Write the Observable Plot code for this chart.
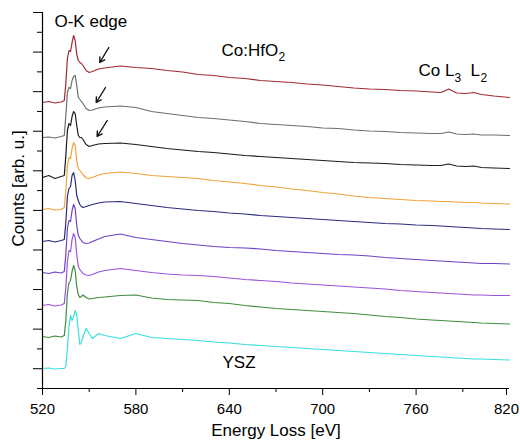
<!DOCTYPE html>
<html><head><meta charset="utf-8">
<script src="https://cdn.jsdelivr.net/npm/d3@7"></script>
<script src="https://cdn.jsdelivr.net/npm/@observablehq/plot@0.6"></script>
<style>html,body{margin:0;padding:0;background:#fff}svg{display:block}</style>
</head><body><div id="chart"></div>
<script>
// Energy loss grid (eV)
const energy = [520,524,528,532,534, 535,536,537,538,539, 540,541,542,543,544, 545,546,548,550,552, 556,560,
  570,580,590,600,610, 620,630,640,650,660, 670,680,690,700,710, 720,730,740,750,760, 770,
  776,781,786,792,797, 802,810,820];

// Stacked spectra (counts, arb. u.), top to bottom
const specRed = [286,287,285.5,286.5,288, 305,330,338,337,346, 353,348,334,328,326, 325,323,318,316,317, 319.5,320.5,
  322.5,321,320,318,316.5, 314,313,311,310,308, 307,306,304.5,303.5,302, 300.5,299.5,299,298,297.5, 296.5,
  296,299.5,295.5,295,296, 294,292.5,291];
const specGray = [251,251.5,250.5,252,253, 273,296,301,300,308, 312,313,303,291,289, 287,285,280,278,278.5, 280.5,281.5,
  282.5,281,277,275,273, 271,270,268.5,267,265, 264,263,262,260.5,260, 258.5,257.5,257,256,255.5, 255,
  255,256.5,254.5,254,254.5, 253.5,253.5,253];
const specBlack = [211,213,210,212,213, 233,258,265,263,272, 277,275,263,253,251, 251,249,244,242,243, 244.5,245,
  245.5,244,242,240,238.5, 237,236,234.5,233,232, 231,230,229,228,227, 226,225.5,225,224,223.5, 223,
  223,224.5,222.5,222,222.5, 221,220.5,220];
const specOrange = [179,180,178.5,179,181, 198,223,231,230,240, 246,243,228,220,218, 216,214,210.5,210,211, 213.5,215,
  216.5,215,213,212,211, 210,208,206.5,205,203, 201.5,199.5,198,196,194.5, 192.5,191,190,189,188, 187.5,
  187,187,186.5,186,186, 185.5,185,184.5];
const specNavy = [147,148,146.5,148,149, 166,192,200,202,213, 216,208,193,188,184, 182,181,182,183,184, 185.5,186.5,
  187,185,183,181,179.5, 178,177,175.5,174.5,173, 172,171,170,169,168, 167,166,165,164.5,163.5, 163,
  162.5,162,161.5,161,160.5, 160,159.5,159];
const specViolet = [116,115,116.5,115.5,117, 134,160,168,167,178, 184,180,163,153,150, 148,146,145,145.5,147, 149.5,152,
  154.5,151,149,147,145, 143.5,142,141,140.5,139.5, 138,137,136,135,134, 133.5,132.5,131,130,129, 128,
  127.5,127,126.5,126,125.5, 125,125,124.5];
const specPurple = [83,84,82.5,83.5,85, 101,127,138,137,149, 155,151,134,122,119, 117,115,113.5,113,114, 116.5,118,
  120,118,116,114.5,113.5, 113,112,110.5,109,108, 107,105.5,104.5,103.5,102.5, 101.5,100.5,99.5,98,97, 96,
  95.5,95,94.5,94,93.5, 93.5,93,93];
const specGreen = [52,51,52.5,51.5,53, 68,95,106,108,117, 123,118,102,94,91, 92,93.5,91,89.5,90, 91,91.5,
  93,93.5,90.5,89,88.5, 88,86,85,83,81.5, 80,79,78,77,76, 75,73.5,72,71,69.5, 68.5,
  68,67.5,67,66.5,66, 65.5,65,64.5];
const specYSZ = [20,20.5,19.5,20,20, 22,40,62,73,68, 72,78,74,58,44, 46,52,60,55,50, 55,53,
  50,55,51,50,49, 48,46.5,45.5,44,43, 42,41,40,39,38, 37,36,35,34,33, 32,
  31.5,31,30.5,30,29.5, 29.5,29,28.5];

const spectra = [specRed, specGray, specBlack, specOrange, specNavy, specViolet, specPurple, specGreen, specYSZ];
const lineColors = ["#a02a33", "#6e6e6e", "#1c1c1c", "#f2a33a", "#2a2c7c", "#6b42c6", "#9a52d8", "#3f8c3f", "#38dfdf"];

// Axis ticks
const xMajor = [520, 580, 640, 700, 760];
const xLast = [820];
const xMinor = [550, 610, 670, 730, 790];
const yTop = 376;
const yTicks = d3.range(20).map(i => i * yTop / 19);
const yMajor = yTicks.filter((d, i) => i % 2 === 1);
const yMinor = yTicks.filter((d, i) => i % 2 === 0);

// Annotations (data coordinates)
const arrows = [
  {x1: 562.6, y1: 341, x2: 556.8, y2: 326},
  {x1: 560.5, y1: 301, x2: 554.5, y2: 286},
  {x1: 561.6, y1: 268, x2: 555.1, y2: 252}
];

const rows = spectra.map(s => energy.map((e, i) => ({e, v: s[i]})));

const font = "'Liberation Sans', Arial, Helvetica, sans-serif";
const lab = 17, sub = 12;

const plot = Plot.plot({
  width: 520, height: 444,
  marginLeft: 42, marginRight: 11, marginTop: 12, marginBottom: 56,
  x: {domain: [520, 820]},
  y: {domain: [0, yTop]},
  style: {fontFamily: font, fontSize: "15px", color: "#000", background: "#fff", overflow: "visible"},
  marks: [
    ...rows.map((r, k) => Plot.line(r, {x: "e", y: "v", stroke: lineColors[k], strokeWidth: 1.2})),
    Plot.ruleX([520], {stroke: "#000", strokeWidth: 1.2}),
    Plot.ruleY([0], {stroke: "#000", strokeWidth: 1.2}),
    Plot.axisX({ticks: xMajor, tickSize: 7, tickPadding: 8, fontSize: 15, label: null}),
    Plot.axisX({ticks: xLast, tickSize: 7, tickPadding: 8, fontSize: 15, label: null, dx: -3}),
    Plot.axisX({ticks: xMinor, tickSize: 4, tickFormat: () => "", label: null}),
    Plot.axisY({ticks: yMajor, tickSize: 9, tickFormat: () => "", label: null}),
    Plot.axisY({ticks: yMinor, tickSize: 5, tickFormat: () => "", label: null}),
    Plot.text(["Energy Loss [eV]"], {frameAnchor: "bottom", textAnchor: "middle", lineAnchor: "middle", dy: 42, fontSize: 17}),
    Plot.text(["Counts [arb. u.]"], {frameAnchor: "left", textAnchor: "middle", lineAnchor: "middle", rotate: -90, dx: -24, dy: -12, fontSize: 17}),
    Plot.text(["O-K edge"], {x: 527.7, y: 367.4, textAnchor: "start", fontSize: lab}),
    Plot.text(["Co:HfO"], {x: 635, y: 338, textAnchor: "start", fontSize: lab}),
    Plot.text(["2"], {x: 635, y: 338, textAnchor: "start", fontSize: sub, dx: 57, dy: 7}),
    Plot.text(["Co L"], {x: 761.5, y: 318.4, textAnchor: "start", fontSize: lab}),
    Plot.text(["3"], {x: 761.5, y: 318.4, textAnchor: "start", fontSize: sub, dx: 36, dy: 8}),
    Plot.text(["L"], {x: 761.5, y: 318.4, textAnchor: "start", fontSize: lab, dx: 52}),
    Plot.text(["2"], {x: 761.5, y: 318.4, textAnchor: "start", fontSize: sub, dx: 62, dy: 8}),
    Plot.text(["YSZ"], {x: 635.6, y: 26, textAnchor: "start", fontSize: lab}),
    Plot.arrow(arrows, {x1: "x1", y1: "y1", x2: "x2", y2: "y2", stroke: "#111", strokeWidth: 1.4, headLength: 6})
  ]
});
document.getElementById("chart").appendChild(plot);
</script>
</body></html>
